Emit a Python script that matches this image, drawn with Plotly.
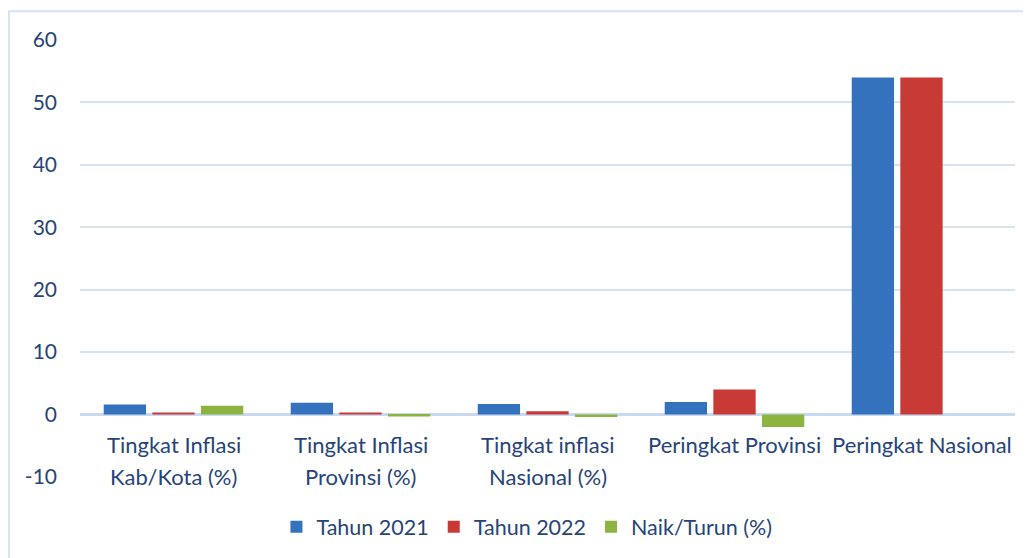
import plotly.graph_objects as go

# data
categories = ["Tingkat Inflasi Kab/Kota (%)", "Tingkat Inflasi Provinsi (%)",
              "Tingkat inflasi Nasional (%)", "Peringkat Provinsi", "Peringkat Nasional"]
label_line1 = ["Tingkat Inflasi", "Tingkat Inflasi", "Tingkat inflasi", "Peringkat Provinsi", "Peringkat Nasional"]
label_line2 = ["Kab/Kota (%)", "Provinsi (%)", "Nasional (%)", "", ""]
tahun_2021 = [1.6, 1.9, 1.7, 2, 54]
tahun_2022 = [0.35, 0.35, 0.55, 4, 54]
naik_turun = [1.4, -0.3, -0.4, -2, 0]
series_names = ["Tahun 2021", "Tahun 2022", "Naik/Turun (%)"]
y_ticks = [-10, 0, 10, 20, 30, 40, 50, 60]
y_ticktext = ["-10", "0", "10", "20", "30", "40", "50", "60"]

txt = "#264478"
font_family = "Lato, Noto Sans, sans-serif"

fig = go.Figure()
colors = ["#3572bd", "#c73a36", "#8cb43f"]
for name, vals, col in zip(series_names, [tahun_2021, tahun_2022, naik_turun], colors):
    fig.add_trace(go.Bar(x=categories, y=vals, name=name,
                         marker=dict(color=col, line=dict(width=0))))

# category labels sit under the zero line, like the original
for cat, l1, l2 in zip(categories, label_line1, label_line2):
    fig.add_annotation(x=cat, y=0, xref="x", yref="y", text=l1, showarrow=False,
                       yanchor="middle", yshift=-30, font=dict(size=22, color=txt, family=font_family))
    if l2:
        fig.add_annotation(x=cat, y=0, xref="x", yref="y", text=l2, showarrow=False,
                           yanchor="middle", yshift=-62, font=dict(size=22, color=txt, family=font_family))

# outer frame
fig.add_shape(type="rect", xref="paper", yref="paper", x0=-0.076, x1=1.05, y0=-0.25, y1=1.066,
              line=dict(color="#d6e2f3", width=2), layer="below")

# page body has an 8px margin, so the figure margins are trimmed by 8
fig.update_layout(
    width=1031, height=558,
    margin=dict(l=72, r=24, t=32, b=89),
    paper_bgcolor="white", plot_bgcolor="white",
    barmode="group", bargap=0.22, bargroupgap=0.13,
    font=dict(family=font_family, size=21, color=txt),
    showlegend=True,
    legend=dict(orientation="h", x=0.478, xanchor="center", y=-0.114, yanchor="middle",
                font=dict(size=21.5, color=txt), itemwidth=30, traceorder="normal"),
    xaxis=dict(showticklabels=False, showgrid=False, zeroline=False, showline=False, automargin=False),
    yaxis=dict(range=[-10, 60], tickvals=y_ticks, ticktext=y_ticktext, showgrid=True,
               gridcolor="#d9e2f3", gridwidth=1.5, automargin=False,
               zeroline=True, zerolinecolor="#c9d9ef", zerolinewidth=2.5,
               ticks="", ticklabelstandoff=22, tickfont=dict(size=21, color=txt)),
)

fig.write_html("out.html")
